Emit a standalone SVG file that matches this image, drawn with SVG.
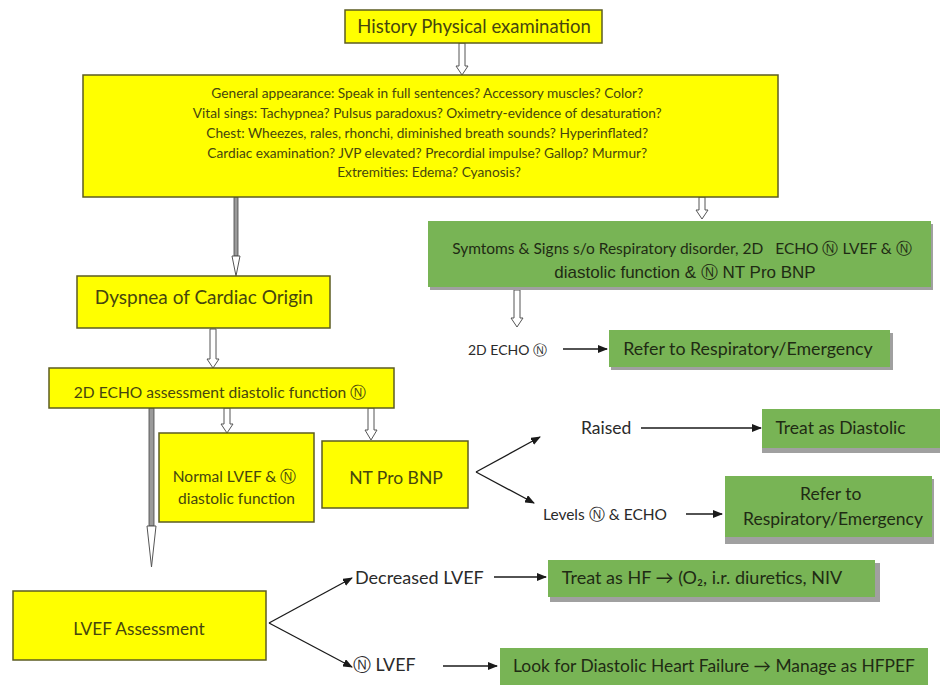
<svg xmlns="http://www.w3.org/2000/svg" width="940" height="688" viewBox="0 0 940 688">
<defs>
<marker id="ah" viewBox="0 0 10 8" refX="9" refY="4" markerWidth="10" markerHeight="8" markerUnits="userSpaceOnUse" orient="auto">
<path d="M0,0 L10,4 L0,8 Z" fill="#1a1a1a"/>
</marker>
</defs>
<style>
.y{fill:#ffff00;stroke:#5c5c22;stroke-width:1.5}
.g{fill:#78b455}
.sh{fill:#a0a0a0}
.ty{font-family:Lato,"Liberation Sans",sans-serif;fill:#46460f;text-anchor:middle}
.tg{font-family:Lato,"Liberation Sans",sans-serif;fill:#1f2b14;text-anchor:middle}
.tl{font-family:Lato,"Liberation Sans",sans-serif;fill:#2a2a2a}
.ln{stroke:#1a1a1a;stroke-width:1.3;fill:none;marker-end:url(#ah)}
.ho{fill:#ffffff;stroke:#555;stroke-width:1}
.sf{fill:#9a9a9a;stroke:#444;stroke-width:0.8}
</style>
<rect width="940" height="688" fill="#ffffff"/>

<g id="connectors">
<path class="ho" d="M459,43 V66 H456 L462,75 L468,66 H465 V43 Z"/>
<rect class="sf" x="234" y="197" width="4" height="59"/>
<path class="ho" d="M232,256 L236,276 L240,256 Z"/>
<path class="ho" d="M699,197 V210 H696 L702,219 L708,210 H705 V197 Z"/>
<path class="ho" d="M514,290 V318 H511 L517,327 L523,318 H520 V290 Z"/>
<path class="ho" d="M210,329 V359 H207 L213,368 L219,359 H216 V329 Z"/>
<rect class="sf" x="149" y="408" width="5" height="118"/>
<path class="ho" d="M147,526 L151.5,567 L156,526 Z"/>
<path class="ho" d="M224,408 V424 H221 L227,433 L233,424 H230 V408 Z"/>
<path class="ho" d="M368,408 V430 H365 L371,440 L377,430 H374 V408 Z"/>
<line class="ln" x1="563" y1="349" x2="607" y2="349"/>
<line class="ln" x1="476" y1="472" x2="540" y2="437"/>
<line class="ln" x1="476" y1="472" x2="534" y2="503"/>
<line class="ln" x1="641" y1="428" x2="761" y2="428"/>
<line class="ln" x1="686" y1="514" x2="722" y2="514"/>
<line class="ln" x1="269" y1="623" x2="352" y2="578"/>
<line class="ln" x1="269" y1="623" x2="352" y2="667"/>
<line class="ln" x1="494" y1="577" x2="546" y2="577"/>
<line class="ln" x1="443" y1="666" x2="497" y2="666"/>
</g>

<g id="history">
<rect class="y" x="345" y="10" width="257" height="33"/>
<text class="ty" x="474" y="33" font-size="18.5">History Physical examination</text>
</g>

<g id="exam">
<rect class="y" x="83" y="75" width="695" height="122"/>
<text class="ty" font-size="13.7">
<tspan x="429" y="98">General appearance: Speak in full sentences? Accessory muscles? Color?</tspan>
<tspan x="429" y="118">Vital sings: Tachypnea? Pulsus paradoxus? Oximetry-evidence of desaturation?</tspan>
<tspan x="429" y="138">Chest: Wheezes, rales, rhonchi, diminished breath sounds? Hyperinflated?</tspan>
<tspan x="429" y="158">Cardiac examination? JVP elevated? Precordial impulse? Gallop? Murmur?</tspan>
<tspan x="429" y="177">Extremities: Edema? Cyanosis?</tspan>
</text>
</g>

<g id="resp">
<rect class="sh" x="430" y="224" width="503" height="66"/>
<rect class="g" x="428" y="221" width="503" height="66"/>
<text class="tg" x="682" y="253.5" font-size="15.5" xml:space="preserve">Symtoms &amp; Signs s/o Respiratory disorder, 2D   ECHO Ⓝ LVEF &amp; Ⓝ</text>
<text class="tg" x="685" y="278" font-size="17" style="font-family:'Liberation Sans',sans-serif">diastolic function &amp; Ⓝ NT Pro BNP</text>
</g>

<g id="echo-normal">
<text class="tl" x="468" y="354.5" font-size="14">2D ECHO Ⓝ</text>
</g>

<g id="refer1">
<rect class="sh" x="611" y="333" width="282" height="37"/>
<rect class="g" x="609" y="330" width="281" height="37"/>
<text class="tg" x="748" y="355" font-size="17.8">Refer to Respiratory/Emergency</text>
</g>

<g id="dyspnea">
<rect class="y" x="77" y="276" width="253" height="52"/>
<text class="ty" x="204" y="304" font-size="19">Dyspnea of Cardiac Origin</text>
</g>

<g id="echo-assess">
<rect class="y" x="49" y="368" width="345" height="40"/>
<text class="ty" x="220" y="397.5" font-size="15.6">2D ECHO assessment diastolic function Ⓝ</text>
</g>

<g id="normal-lvef">
<rect class="y" x="159" y="433" width="155" height="89"/>
<text class="ty" font-size="15.5">
<tspan x="236.5" y="482">Normal LVEF &amp; Ⓝ</tspan>
<tspan x="236.5" y="504">diastolic function</tspan>
</text>
</g>

<g id="ntprobnp">
<rect class="y" x="322" y="441" width="146" height="67"/>
<text class="ty" x="396" y="484" font-size="17.5">NT Pro BNP</text>
</g>

<g id="raised">
<text class="tl" x="581" y="434" font-size="17.5">Raised</text>
</g>

<g id="treat-diastolic">
<rect class="sh" x="762" y="412" width="178" height="41"/>
<rect class="g" x="762" y="409" width="178" height="39"/>
<text class="tg" x="840.5" y="434" font-size="17.5">Treat as Diastolic</text>
</g>

<g id="levels">
<text class="tl" x="543" y="519.5" font-size="15.5">Levels Ⓝ &amp; ECHO</text>
</g>

<g id="refer2">
<rect class="sh" x="725" y="479" width="209" height="65"/>
<rect class="g" x="725" y="476" width="207" height="61"/>
<text class="tg" font-size="17.5">
<tspan x="833" y="500">Refer to</tspan>
<tspan x="833" y="525">Respiratory/Emergency</tspan>
</text>
</g>

<g id="lvef-assess">
<rect class="y" x="13" y="591" width="253" height="69"/>
<text class="ty" x="139" y="635" font-size="17.2">LVEF Assessment</text>
</g>

<g id="decreased">
<text class="tl" x="355" y="584" font-size="18">Decreased LVEF</text>
</g>

<g id="treat-hf">
<rect class="sh" x="550" y="563" width="330" height="39"/>
<rect class="g" x="548" y="560" width="327" height="37"/>
<text class="tg" x="702" y="584" font-size="18">Treat as HF → (O₂, i.r. diuretics, NIV</text>
</g>

<g id="normal-lvef2">
<text class="tl" x="353" y="671" font-size="17.8">Ⓝ LVEF</text>
</g>

<g id="hfpef">
<rect class="g" x="500" y="648" width="428" height="37"/>
<text class="tg" x="714" y="672" font-size="17.4">Look for Diastolic Heart Failure → Manage as HFPEF</text>
</g>
</svg>
